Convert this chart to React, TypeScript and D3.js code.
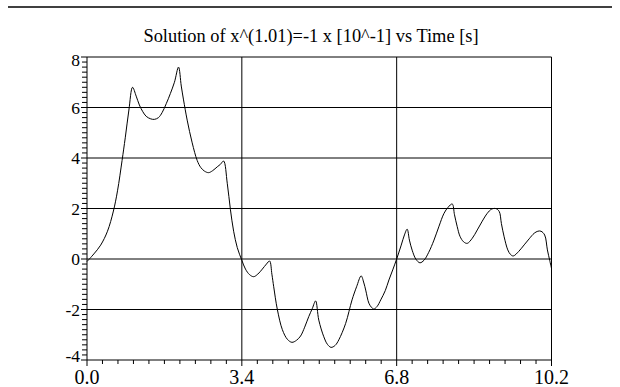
import React from "react";
import * as d3 from "d3";

const title = "Solution of x^(1.01)=-1 x [10^-1] vs Time [s]";
const xTicks = [0, 3.4, 6.8, 10.2];
const xTickLabels = ["0.0", "3.4", "6.8", "10.2"];
const yTicks = [-4, -2, 0, 2, 4, 6, 8];
const yTickLabels = ["-4", "-2", "0", "2", "4", "6", "8"];

const times = [
  0.0, 0.15, 0.3, 0.45, 0.58, 0.67, 0.77, 0.84, 0.92, 1.0,
  1.08, 1.15, 1.22, 1.3, 1.4, 1.48, 1.57, 1.65, 1.74, 1.83,
  1.92, 2.01, 2.07, 2.12, 2.2, 2.31, 2.42, 2.5, 2.58, 2.67,
  2.76, 2.86, 2.93, 3.0, 3.08, 3.15, 3.22, 3.3, 3.4, 3.48,
  3.57, 3.66, 3.75, 3.85, 3.94, 4.01, 4.06, 4.1, 4.18, 4.29,
  4.4, 4.5, 4.6, 4.69, 4.78, 4.87, 4.95, 5.02, 5.09, 5.2,
  5.28, 5.36, 5.45, 5.53, 5.68, 5.82, 5.92, 6.02, 6.08, 6.12,
  6.19, 6.25, 6.3, 6.37, 6.45, 6.55, 6.63, 6.72, 6.8, 6.9,
  6.97, 7.03, 7.08, 7.14, 7.22, 7.31, 7.4, 7.5, 7.62, 7.73,
  7.84, 7.93, 8.02, 8.07, 8.13, 8.19, 8.27, 8.35, 8.46, 8.57,
  8.68, 8.79, 8.88, 8.97, 9.05, 9.1, 9.16, 9.24, 9.3, 9.36,
  9.48, 9.6, 9.71, 9.82, 9.9, 9.97, 10.05, 10.11, 10.16, 10.2,
];
const values = [
  -0.1, 0.2, 0.55, 1.1, 1.9, 2.7, 3.9, 4.8, 5.9, 6.8,
  6.45, 6.1, 5.85, 5.65, 5.55, 5.53, 5.6, 5.8, 6.15, 6.55,
  7.0, 7.6, 6.85, 6.3, 5.5, 4.6, 3.9, 3.62, 3.48, 3.42,
  3.5, 3.65, 3.75, 3.88, 3.0, 1.95, 1.1, 0.45, -0.05, -0.4,
  -0.62, -0.7, -0.6, -0.4, -0.2, -0.08, -0.6, -1.1, -2.0, -2.8,
  -3.18, -3.3, -3.22, -3.05, -2.7, -2.28, -1.95, -1.66, -2.42, -3.08,
  -3.38, -3.5, -3.42, -3.2, -2.55, -1.62, -1.1, -0.67, -0.95, -1.23,
  -1.75, -1.92, -1.98, -1.88, -1.62, -1.25, -0.83, -0.4, 0.0, 0.55,
  0.95, 1.18, 0.75, 0.35, 0.0, -0.15, -0.05, 0.25, 0.75, 1.3,
  1.81, 2.05, 2.18, 1.75, 1.28, 0.9, 0.68, 0.62, 0.82, 1.15,
  1.5, 1.81, 1.97, 2.0, 1.89, 1.4, 0.88, 0.36, 0.18, 0.12,
  0.3, 0.56, 0.8, 1.02, 1.1, 1.1, 0.95, 0.36, -0.05, -0.37,
];

const W = 620;
const H = 387;
const left = 87;
const right = 551.5;
const top = 57;
const bottom = 360;
const font = '"Liberation Serif", "DejaVu Serif", serif';

export default function App() {
  const x = d3.scaleLinear().domain([0, 10.2]).range([left, right]);
  const y = d3.scaleLinear().domain([-4, 8]).range([bottom, top]);
  const pts: [number, number][] = times.map((t, i) => [t, values[i]]);
  const line = d3
    .line<[number, number]>()
    .x((d) => x(d[0]))
    .y((d) => y(d[1]))
    .curve(d3.curveCatmullRom.alpha(0.5));

  const xMinorTicks = d3.range(0, 31).map((i) => i * 0.34);
  const yMinorTicks = d3.range(0, 61).map((i) => -4 + i * 0.2);
  const yShift = (v: number) => (v === 8 ? 3 : v === -4 ? -4 : 0);

  return (
    <svg
      width={W}
      height={H}
      style={{ position: "absolute", left: 0, top: 0, background: "#fff" }}
    >
      <rect x={0} y={0} width={W} height={H} fill="#fff" />
      <line x1={8} x2={612} y1={7} y2={7} stroke="#000" strokeWidth={1.5} />
      <text
        x={311}
        y={42}
        textAnchor="middle"
        style={{ fontFamily: font, fontSize: 18.4 }}
        fill="#000"
      >
        {title}
      </text>

      {yTicks.map((v) => (
        <line
          key={"hg" + v}
          x1={left}
          x2={right}
          y1={y(v)}
          y2={y(v)}
          stroke="#000"
          strokeWidth={1}
        />
      ))}
      {xTicks.map((v) => (
        <line
          key={"vg" + v}
          x1={x(v)}
          x2={x(v)}
          y1={top}
          y2={bottom}
          stroke="#000"
          strokeWidth={1}
        />
      ))}

      {yMinorTicks.map((v, i) => (
        <line
          key={"ym" + i}
          x1={left - (i % 10 === 0 ? 6 : 5)}
          x2={left}
          y1={y(v)}
          y2={y(v)}
          stroke="#000"
          strokeWidth={1}
        />
      ))}
      {xMinorTicks.map((v, i) => (
        <line
          key={"xm" + i}
          x1={x(v)}
          x2={x(v)}
          y1={bottom}
          y2={bottom + (i % 10 === 0 ? 6 : 4)}
          stroke="#000"
          strokeWidth={1}
        />
      ))}

      {yTicks.map((v, i) => (
        <text
          key={"yl" + v}
          x={80}
          y={y(v) + yShift(v)}
          dy="0.35em"
          textAnchor="end"
          style={{ fontFamily: font, fontSize: 17.5 }}
          fill="#000"
        >
          {yTickLabels[i]}
        </text>
      ))}
      {xTicks.map((v, i) => (
        <text
          key={"xl" + v}
          x={x(v)}
          y={384}
          textAnchor="middle"
          style={{ fontFamily: font, fontSize: 20 }}
          fill="#000"
        >
          {xTickLabels[i]}
        </text>
      ))}

      <path d={line(pts) || ""} fill="none" stroke="#000" strokeWidth={1} />
    </svg>
  );
}
